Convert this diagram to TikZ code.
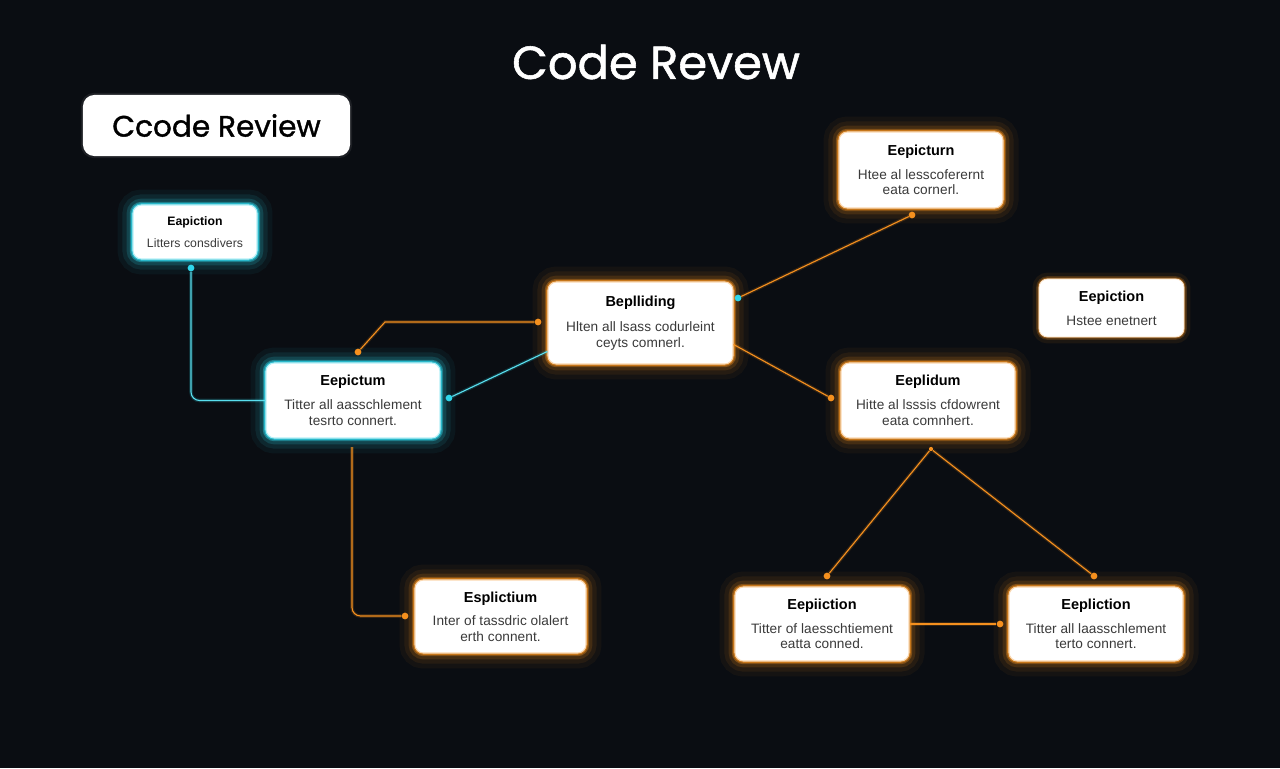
\documentclass[tikz,border=0pt]{standalone}
\usepackage{fontspec}
\setmainfont{Liberation Sans}
\newfontfamily\headfont[FakeBold=1.2]{Poppins}
\newfontfamily\corpo[LetterSpace=0.5]{Liberation Sans}

\definecolor{sfondo}{HTML}{0A0D12}
\definecolor{arancio}{HTML}{F5901E}
\definecolor{ciano}{HTML}{2FD6EA}
\definecolor{testo}{HTML}{3A3A3A}

\tikzset{
  box/.style={fill=white, rounded corners=6pt, align=center, inner sep=0pt,
    text=testo, font=\corpo\fontsize{9.7}{11}\selectfont},
  boxarancio/.style={box, draw=arancio!35!white, line width=0.8pt,
    preaction={draw=arancio, line width=22pt, draw opacity=0.05},
    preaction={draw=arancio, line width=15pt, draw opacity=0.08},
    preaction={draw=arancio, line width=9pt, draw opacity=0.15},
    preaction={draw=arancio, line width=4.5pt, draw opacity=0.35},
    preaction={draw=arancio, line width=2.5pt, draw opacity=0.6}},
  boxciano/.style={box, draw=ciano!35!white, line width=0.8pt,
    preaction={draw=ciano, line width=22pt, draw opacity=0.05},
    preaction={draw=ciano, line width=15pt, draw opacity=0.09},
    preaction={draw=ciano, line width=9pt, draw opacity=0.17},
    preaction={draw=ciano, line width=4.5pt, draw opacity=0.4},
    preaction={draw=ciano, line width=2.5pt, draw opacity=0.65}},
  boxdebole/.style={box, draw=arancio!25!white, line width=0.6pt,
    preaction={draw=arancio, line width=9pt, draw opacity=0.08},
    preaction={draw=arancio, line width=4pt, draw opacity=0.2},
    preaction={draw=arancio, line width=2pt, draw opacity=0.4}},
  punto/.style={circle, fill=arancio, inner sep=0pt, minimum size=4.8pt},
  puntoc/.style={punto, fill=ciano},
  lineaarancio/.style={draw=arancio, line width=0.8pt,
    preaction={draw=arancio, line width=2.5pt, draw opacity=0.18}},
  lineaciano/.style={draw=ciano!80!white, line width=0.8pt,
    preaction={draw=ciano, line width=2.5pt, draw opacity=0.18}}
}

\newcommand{\tit}[2][10.3]{{\rmfamily\bfseries\color{black}\fontsize{#1}{11}\selectfont #2}}

\begin{document}
\begin{tikzpicture}[x=0.025cm, y=-0.025cm]
  % Sfondo
  \fill[sfondo] (0,0) rectangle (1280,768);
  \useasboundingbox (0,0) rectangle (1280,768);

  % Titoli
  \node[text=white, font=\headfont\fontsize{33}{38}\selectfont] (0) at (656,62) {Code Revew};
  \node[fill=white, rounded corners=8pt, minimum width=6.675cm, minimum height=1.525cm,
    inner sep=0pt, font=\headfont\fontsize{21}{24}\selectfont, text=black,
    preaction={draw=white, line width=3pt, draw opacity=0.08}] (t) at (216.5,125.5) {Ccode Review};

  % Riquadri
  \node[boxciano, minimum width=3.1cm, minimum height=1.35cm, font=\corpo\fontsize{8.7}{10}\selectfont] (1) at (195,232)
    {\tit[8.7]{Eapiction}\\[6pt] Litters consdivers};
  \node[boxciano, minimum width=4.35cm, minimum height=1.875cm] (2) at (353,400.5)
    {\tit{Eepictum}\\[6pt] Titter all aasschlement\\ tesrto connert.};
  \node[boxarancio, minimum width=4.625cm, minimum height=2.05cm] (3) at (640.5,323)
    {\tit{Beplliding}\\[7pt] Hlten all lsass codurleint\\ ceyts comnerl.};
  \node[boxarancio, minimum width=4.1cm, minimum height=1.9cm] (4) at (921,170)
    {\tit{Eepicturn}\\[6pt] Htee al lesscoferernt\\ eata cornerl.};
  \node[boxdebole, minimum width=3.625cm, minimum height=1.45cm] (5) at (1111.5,308)
    {\tit{Eepiction}\\[6pt] Hstee enetnert};
  \node[boxarancio, minimum width=4.35cm, minimum height=1.875cm] (6) at (928,400.5)
    {\tit{Eeplidum}\\[6pt] Hitte al lsssis cfdowrent\\ eata comnhert.};
  \node[boxarancio, minimum width=4.275cm, minimum height=1.825cm] (7) at (500.5,616.5)
    {\tit{Esplictium}\\[6pt] Inter of tassdric olalert\\ erth connent.};
  \node[boxarancio, minimum width=4.35cm, minimum height=1.85cm] (8) at (822,624)
    {\tit{Eepiiction}\\[6pt] Titter of laesschtiement\\ eatta conned.};
  \node[boxarancio, minimum width=4.35cm, minimum height=1.85cm] (9) at (1096,624)
    {\tit{Eepliction}\\[6pt] Titter all laasschlement\\ terto connert.};

  % Punti
  \node[puntoc] (d1) at (191,268) {};
  \node[punto] (d2) at (538,322) {};
  \node[punto] (d3) at (358,352) {};
  \node[puntoc] (d4) at (449,398) {};
  \node[punto] (d5) at (405,616) {};
  \node[puntoc] (d6) at (738,298) {};
  \node[punto] (d7) at (912,215) {};
  \node[punto] (d8) at (831,398) {};
  \node[punto, minimum size=3pt] (d9) at (931,449) {};
  \node[punto] (d10) at (827,576) {};
  \node[punto] (d11) at (1094,576) {};
  \node[punto] (d12) at (1000,624) {};
  \coordinate (k1) at (385,322);
  \coordinate (k2) at (352,447);

  % Collegamenti
  \draw[lineaciano, rounded corners=6pt] (d1) |- (2.west);
  \draw[lineaarancio] (d2) -- (k1) -- (d3);
  \draw[lineaciano] (d4) -- (3.197);
  \draw[lineaarancio, rounded corners=6pt] (k2) |- (d5);
  \draw[lineaarancio] (d6) -- (d7);
  \draw[lineaarancio] (3.-13) -- (d8);
  \draw[lineaarancio] (d10) -- (d9) -- (d11);
  \draw[lineaarancio] (8.east) -- (d12);
\end{tikzpicture}
\end{document}
